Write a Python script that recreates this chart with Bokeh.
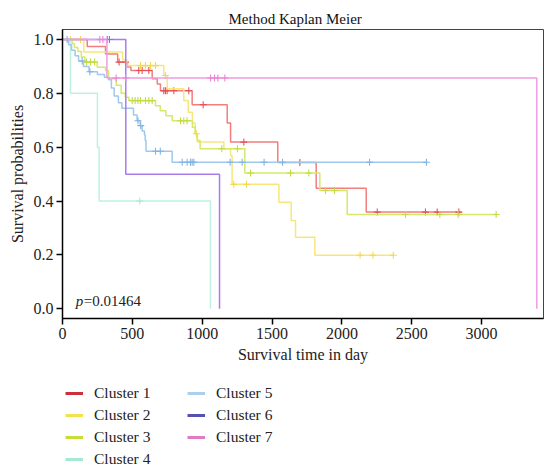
from bokeh.plotting import figure
from bokeh.layouts import column
from bokeh.models import (FixedTicker, Label, Legend, LegendItem, Range1d,
                          ColumnDataSource, CustomJSTickFormatter)
from bokeh.embed import file_html
from bokeh.resources import INLINE
import numpy as np

FONT = "Liberation Serif"

title_text = "Method Kaplan Meier"
x_label = "Survival time in day"
y_label = "Survival probabilities"
p_value_text = "=0.01464"

x_ticks = [0, 500, 1000, 1500, 2000, 2500, 3000]
y_ticks = [0.0, 0.2, 0.4, 0.6, 0.8, 1.0]

labels = ["Cluster 1", "Cluster 2", "Cluster 3", "Cluster 4",
          "Cluster 5", "Cluster 6", "Cluster 7"]
legend_colors = ["#CC3038", "#F2E24E", "#C8DC3A", "#A4EAD2",
                 "#AAD0F0", "#5252B0", "#E07CC4"]
line_colors = ["#F27E7E", "#F8E67C", "#D4EA68", "#BEF2DF",
               "#A0C8EC", "#A87CEA", "#F29CDE"]
mark_colors = ["#E8505A", "#F2DA50", "#C4DC44", "#A8EAD0",
               "#80B4E4", "#9868E0", "#EC84D4"]

# Step curves (time in days, survival after each step)
c1_t = [0, 177, 308, 395, 465, 490, 642, 678, 701, 928, 1179, 1203, 1541, 1816, 2174, 2856]
c1_s = [1.0, 0.974, 0.946, 0.916, 0.898, 0.885, 0.854, 0.835, 0.81, 0.758, 0.69, 0.619,
        0.543, 0.448, 0.359, 0.359]
c1_ct = [405, 451, 546, 570, 618, 725, 737, 749, 797, 904, 1007, 1298, 1699, 2253, 2598, 2682, 2837]
c1_cs = [0.916, 0.916, 0.885, 0.885, 0.885, 0.81, 0.81, 0.81, 0.81, 0.81, 0.758, 0.619,
         0.543, 0.359, 0.359, 0.359, 0.359]

c2_t = [0, 152, 430, 460, 725, 750, 868, 900, 930, 950, 965, 1155, 1203, 1214, 1549, 1637,
        1668, 1806, 2372]
c2_s = [1.0, 0.953, 0.925, 0.903, 0.866, 0.817, 0.773, 0.73, 0.69, 0.65, 0.619, 0.594,
        0.569, 0.462, 0.396, 0.328, 0.266, 0.199, 0.199]
c2_ct = [57, 129, 558, 594, 630, 666, 737, 958, 1226, 1317, 2130, 2222, 2368]
c2_cs = [1.0, 1.0, 0.903, 0.903, 0.903, 0.903, 0.866, 0.65, 0.462, 0.462, 0.199, 0.199, 0.199]

c3_t = [0, 69, 85, 110, 135, 160, 248, 308, 330, 385, 420, 450, 475, 666, 700, 740, 785,
        930, 950, 965, 985, 1305, 1842, 2038, 3104]
c3_s = [1.0, 0.985, 0.97, 0.955, 0.935, 0.916, 0.897, 0.885, 0.854, 0.83, 0.80, 0.785,
        0.773, 0.754, 0.735, 0.717, 0.698, 0.674, 0.65, 0.625, 0.594, 0.504, 0.439, 0.350, 0.350]
c3_ct = [172, 200, 230, 499, 520, 540, 558, 594, 618, 642, 845, 868, 892, 1140, 1252, 1346,
         1632, 1763, 1883, 1947, 2455, 2701, 2832, 3104]
c3_cs = [0.916, 0.916, 0.916, 0.773, 0.773, 0.773, 0.773, 0.773, 0.773, 0.773, 0.698, 0.698,
         0.698, 0.594, 0.594, 0.504, 0.504, 0.504, 0.439, 0.439, 0.350, 0.350, 0.350, 0.350]

c4_t = [0, 57, 250, 262, 1059]
c4_s = [1.0, 0.8, 0.6, 0.4, 0.0]
c4_ct = [553]
c4_cs = [0.4]

c5_t = [0, 43, 65, 90, 115, 150, 190, 250, 300, 330, 350, 370, 400, 425, 508, 534, 556,
        570, 587, 592, 598, 785, 2610]
c5_s = [1.0, 0.98, 0.96, 0.94, 0.92, 0.90, 0.88, 0.87, 0.86, 0.85, 0.82, 0.79, 0.765,
        0.745, 0.72, 0.698, 0.68, 0.66, 0.645, 0.625, 0.585, 0.544, 0.544]
c5_ct = [33, 141, 196, 540, 560, 666, 700, 857, 892, 916, 928, 940, 1200, 1286, 1443, 1575,
         2198, 2605]
c5_cs = [1.0, 0.92, 0.88, 0.698, 0.68, 0.585, 0.585, 0.544, 0.544, 0.544, 0.544, 0.544,
         0.544, 0.544, 0.544, 0.544, 0.544, 0.544]

c6_t = [0, 453, 1124]
c6_s = [1.0, 0.5, 0.0]
c6_ct = [320, 336]
c6_cs = [1.0, 1.0]

c7_t = [0, 318, 3395]
c7_s = [1.0, 0.857, 0.0]
c7_ct = [267, 289, 384, 451, 1060, 1088, 1112, 1162]
c7_cs = [1.0, 1.0, 0.857, 0.857, 0.857, 0.857, 0.857, 0.857]

curves = [(c1_t, c1_s, c1_ct, c1_cs), (c2_t, c2_s, c2_ct, c2_cs),
          (c3_t, c3_s, c3_ct, c3_cs), (c4_t, c4_s, c4_ct, c4_cs),
          (c5_t, c5_s, c5_ct, c5_cs), (c6_t, c6_s, c6_ct, c6_cs),
          (c7_t, c7_s, c7_ct, c7_cs)]

p = figure(frame_width=481, frame_height=289,
           min_border_left=62, min_border_right=2, min_border_top=29, min_border_bottom=50,
           x_range=Range1d(0, 3443), y_range=Range1d(-0.036, 1.037),
           output_backend="svg", toolbar_location=None, title=title_text)

p.title.text_font = FONT
p.title.text_font_size = "15px"
p.title.text_font_style = "normal"
p.title.align = "left"
p.title.offset = 166
p.title.standoff = 6
p.title.text_color = "#111111"

p.xgrid.visible = False
p.ygrid.visible = False
p.outline_line_color = "#444444"
p.outline_line_width = 1
p.background_fill_color = "white"
p.border_fill_color = "white"

for ax in (p.xaxis[0], p.yaxis[0]):
    ax.axis_line_color = "black"
    ax.axis_line_width = 1.5
    ax.major_tick_line_color = "black"
    ax.major_tick_line_width = 1.5
    ax.major_tick_out = 6
    ax.major_tick_in = 0
    ax.minor_tick_line_color = None
    ax.major_label_text_font = FONT
    ax.major_label_text_font_size = "16px"
    ax.major_label_text_color = "#222222"
    ax.axis_label_text_font = FONT
    ax.axis_label_text_font_size = "16px"
    ax.axis_label_text_font_style = "normal"
    ax.axis_label_text_color = "#222222"
    ax.major_label_standoff = 3

p.xaxis.ticker = FixedTicker(ticks=x_ticks)
p.yaxis.ticker = FixedTicker(ticks=y_ticks)
p.yaxis.formatter = CustomJSTickFormatter(code="return tick.toFixed(1);")
p.xaxis.axis_label = x_label
p.yaxis.axis_label = y_label
p.xaxis.axis_label_standoff = 4
p.yaxis.axis_label_standoff = 5

for (t, s, ct, cs), lc, mc in zip(curves, line_colors, mark_colors):
    p.step(x=t, y=s, mode="after", line_color=lc, line_width=1.5)
    p.scatter(x=ct, y=cs, marker="cross", size=7, line_color=mc, line_width=1.1)

p.add_layout(Label(x=95, y=0.03, text="p", text_font=FONT, text_font_size="15px",
                   text_font_style="italic", text_color="#222222",
                   text_baseline="alphabetic"))
p.add_layout(Label(x=95, y=0.03, x_offset=8, text=p_value_text, text_font=FONT,
                   text_font_size="15px", text_color="#222222",
                   text_baseline="alphabetic"))

# Legend in its own figure below the chart
lg = figure(width=545, height=100, min_border_left=0, min_border_right=0,
            min_border_top=0, min_border_bottom=0,
            x_range=Range1d(0, 1), y_range=Range1d(0, 1),
            x_axis_type=None, y_axis_type=None,
            output_backend="svg", toolbar_location=None)
lg.xgrid.visible = False
lg.ygrid.visible = False
lg.outline_line_color = None

items = []
for lab, col in zip(labels, legend_colors):
    src = ColumnDataSource(dict(x=[np.nan], y=[np.nan]))
    r = lg.line("x", "y", source=src, line_color=col, line_width=3)
    items.append(LegendItem(label=lab, renderers=[r]))

legend = Legend(items=items, nrows=4, orientation="vertical",
                location=(3, -1), padding=0, margin=0, spacing=2,
                glyph_width=18, glyph_height=20, label_height=20, label_width=91,
                label_standoff=11, label_text_font=FONT, label_text_font_size="15.5px",
                label_text_color="#222222", border_line_color=None,
                background_fill_alpha=0)
lg.add_layout(legend, "center")

layout = column(p, lg, spacing=0)
open("out.html", "w").write(file_html(layout, INLINE))
